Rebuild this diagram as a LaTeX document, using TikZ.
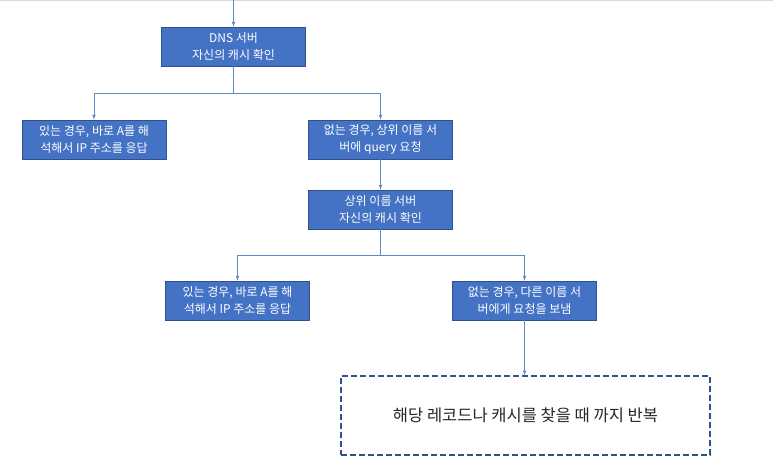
\documentclass[tikz,border=0pt]{standalone}
\usepackage{fontspec}
\setmainfont{Noto Sans CJK KR}
\usepackage{tikz}
\usetikzlibrary{arrows,positioning}
\definecolor{boxblue}{HTML}{4472C4}
\definecolor{edgeblue}{HTML}{2F528F}
\definecolor{topgray}{HTML}{D9D9D9}

\begin{document}
\begin{tikzpicture}[x=1pt, y=-1pt,
    stepbox/.style = {rectangle, draw = edgeblue, fill = boxblue, line width = 0.6pt,
      text = white, align = center, minimum width = 144pt, minimum height = 39pt,
      inner sep = 2pt, font = \fontsize{12}{16.5}\selectfont},
    conn/.style = {draw = boxblue!85, line width = 0.7pt, -latex},
    loopbox/.style = {rectangle, draw = edgeblue, dashed, dash pattern = on 6pt off 3pt,
      line width = 1.1pt, minimum width = 369pt, minimum height = 79pt,
      text = black!85, font = \fontsize{16.5}{20}\selectfont}]
  \useasboundingbox (0,0) rectangle (773,466);
  \draw[topgray, line width = 1pt] (0,0.5) -- (773,0.5);

  \node[stepbox] (dns) at (233.5,46.5) {DNS 서버\\자신의 캐시 확인};
  \node[stepbox] (hit1) at (94,139.5) {있는 경우, 바로 A를 해\\석해서 IP 주소를 응답};
  \node[stepbox] (miss1) at (380.5,139.5) {없는 경우, 상위 이름 서\\버에 query 요청};
  \node[stepbox] (upper) at (380.5,209.5) {상위 이름 서버\\자신의 캐시 확인};
  \node[stepbox] (hit2) at (237.5,300.5) {있는 경우, 바로 A를 해\\석해서 IP 주소를 응답};
  \node[stepbox] (miss2) at (524.5,300.5) {없는 경우, 다른 이름 서\\버에게 요청을 보냄};
  \node[loopbox] (repeat) at (525.5,415.5) {해당 레코드나 캐시를 찾을 때 까지 반복};

  \coordinate (start) at (233.5,0);
  \coordinate (split1) at (233.5,93);
  \coordinate (split2) at (380.5,255);

  \draw[conn] (start) -- (dns.north);
  \draw[conn] (dns.south) -- (split1) -| (hit1.north);
  \draw[conn] (split1) -| (miss1.north);
  \draw[conn] (miss1.south) -- (upper.north);
  \draw[conn] (upper.south) -- (split2) -| (hit2.north);
  \draw[conn] (split2) -| (miss2.north);
  \draw[conn] (miss2.south) -- (miss2.south |- repeat.north);
\end{tikzpicture}
\end{document}
